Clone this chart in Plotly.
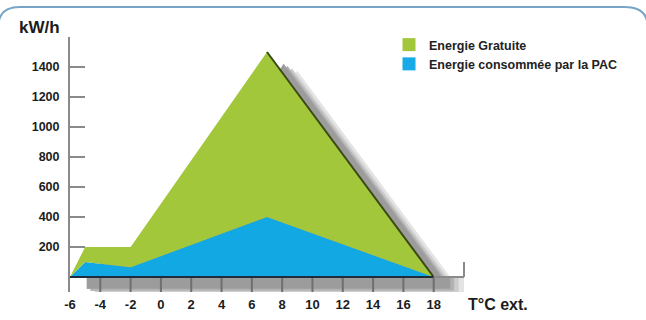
import plotly.graph_objects as go

# ---- data ----
temperatures = [-6, -5, -2, 7, 18]          # °C ext.
energie_pac = [0, 100, 65, 400, 0]           # Energie consommée par la PAC (kW/h)
energie_gratuite = [0, 100, 135, 1100, 0]    # Energie Gratuite (kW/h), stacked on PAC
x_ticks = [-6, -4, -2, 0, 2, 4, 6, 8, 10, 12, 14, 16, 18]
y_ticks = [200, 400, 600, 800, 1000, 1200, 1400, 1600]
y_ticktext = ["200", "400", "600", "800", "1000", "1200", "1400", ""]

energie_totale = [p + g for p, g in zip(energie_pac, energie_gratuite)]
peak = energie_totale.index(max(energie_totale))

GREEN = "#a2c73b"
BLUE = "#12a8e4"
EDGE = "#3b4a12"
AXIS = "#8a8a8a"
TXT = "#1c1c1c"
FONT = "Liberation Sans, Arial, sans-serif"
SHADOW = [(2.0, 125, "#e4e4e4"), (1.65, 108, "#cdcdcd"),
          (1.35, 92, "#b2b2b2"), (1.1, 78, "#9c9c9c")]
X_RANGE = [-6, 20]
Y_RANGE = [-100, 1600]

W, H = 646, 320
ML, MR, MT, MB = 70, 182, 37, 28
PW, PH = W - ML - MR, H - MT - MB


def px(x):
    return (x - ML) / PW


def py(y):
    return (H - MB - y) / PH


def xp(t):
    return (t - X_RANGE[0]) / (X_RANGE[1] - X_RANGE[0])


def yp(v):
    return (v - Y_RANGE[0]) / (Y_RANGE[1] - Y_RANGE[0])


fig = go.Figure()

# soft drop shadow (offset copies of the outline, lighter outside)
for dx, dy, col in SHADOW:
    fig.add_trace(go.Scatter(
        x=[t + dx for t in temperatures], y=[v - dy for v in energie_totale],
        fill="toself", fillcolor=col, mode="none", showlegend=False))

# stacked areas
fig.add_trace(go.Scatter(x=temperatures, y=energie_pac, stackgroup="e",
                         mode="none", fillcolor=BLUE, showlegend=False,
                         name="Energie consommée par la PAC"))
fig.add_trace(go.Scatter(x=temperatures, y=energie_gratuite, stackgroup="e",
                         mode="none", fillcolor=GREEN, showlegend=False,
                         name="Energie Gratuite"))
# dark right edge of the free energy area
fig.add_trace(go.Scatter(x=temperatures[peak:], y=energie_totale[peak:],
                         mode="lines", line=dict(color=EDGE, width=2),
                         showlegend=False))

# legend entries
fig.add_trace(go.Scatter(x=[None], y=[None], mode="markers", name="Energie Gratuite",
                         marker=dict(symbol="square", size=13, color=GREEN)))
fig.add_trace(go.Scatter(x=[None], y=[None], mode="markers",
                         name="Energie consommée par la PAC",
                         marker=dict(symbol="square", size=13, color="#17aae6")))

shapes = []
# shadow band under the baseline (paper-referenced so it is never clipped)
for dx, dy, col in SHADOW:
    shapes.append(dict(type="rect", xref="paper", yref="paper",
                       x0=xp(temperatures[0] + dx), x1=min(xp(temperatures[-1] + dx), 1.0),
                       y0=yp(0), y1=max(yp(-dy), 0.0), fillcolor=col,
                       line=dict(width=0), layer="above"))
# tick marks hanging under the baseline
for t in x_ticks[1:]:
    shapes.append(dict(type="line", xref="paper", yref="paper",
                       x0=xp(t), x1=xp(t), y0=0.0, y1=yp(0),
                       line=dict(color="#6f6f6f", width=2), layer="above"))
shapes += [
    # baseline
    dict(type="line", xref="paper", yref="paper", x0=xp(temperatures[0]),
         x1=xp(temperatures[-1]), y0=yp(0), y1=yp(0),
         line=dict(color="#1f2d3a", width=2), layer="above"),
    dict(type="line", xref="paper", yref="paper", x0=xp(temperatures[-1]), x1=1.0,
         y0=yp(0), y1=yp(0), line=dict(color=AXIS, width=2), layer="above"),
    dict(type="line", xref="paper", yref="paper", x0=1.0, x1=1.0, y0=yp(0),
         y1=yp(100), line=dict(color=AXIS, width=2), layer="above"),
    # rounded frame along the top
    dict(type="path", xref="paper", yref="paper",
         path=(f"M{px(-1.5)},{py(330)} L{px(-1.5)},{py(26)} "
               f"Q{px(-1.5)},{py(7)} {px(20)},{py(7)} L{px(624)},{py(7)} "
               f"Q{px(647.5)},{py(7)} {px(647.5)},{py(26)} L{px(647.5)},{py(330)}"),
         line=dict(color="#77a4c4", width=2)),
]

fig.update_layout(
    template="none",
    width=W, height=H,
    margin=dict(l=ML, r=MR, t=MT, b=MB, pad=0, autoexpand=False),
    paper_bgcolor="white", plot_bgcolor="rgba(0,0,0,0)",
    font=dict(family=FONT, color=TXT, size=13, weight="bold"),
    showlegend=True,
    legend=dict(x=px(389), y=py(30), xanchor="left", yanchor="top",
                bgcolor="rgba(0,0,0,0)", itemwidth=30, tracegroupgap=0,
                traceorder="normal", borderwidth=0,
                font=dict(family=FONT, size=12.5, color="#222", weight="bold")),
    xaxis=dict(range=X_RANGE, tickvals=x_ticks, ticktext=[str(v) for v in x_ticks],
               ticks="", showgrid=False, zeroline=False, automargin=False,
               ticklabelstandoff=3,
               tickfont=dict(family=FONT, size=13, color=TXT, weight="bold")),
    yaxis=dict(range=Y_RANGE, tickvals=y_ticks, ticktext=y_ticktext,
               ticks="inside", ticklen=15, tickwidth=2, tickcolor=AXIS,
               showline=True, linecolor=AXIS, linewidth=2, automargin=False,
               showgrid=False, zeroline=False, ticklabelstandoff=6,
               tickfont=dict(family=FONT, size=12.5, color=TXT, weight="bold")),
    shapes=shapes,
    annotations=[
        dict(text="kW/h", xref="paper", yref="paper", x=px(62), y=py(28),
             xanchor="right", yanchor="middle", showarrow=False,
             font=dict(family=FONT, size=17, color=TXT, weight="bold")),
        dict(text="T°C ext.", xref="paper", yref="paper", x=px(466), y=py(304),
             xanchor="left", yanchor="middle", showarrow=False,
             font=dict(family=FONT, size=16, color=TXT, weight="bold")),
    ],
)

fig.write_html("out.html")
